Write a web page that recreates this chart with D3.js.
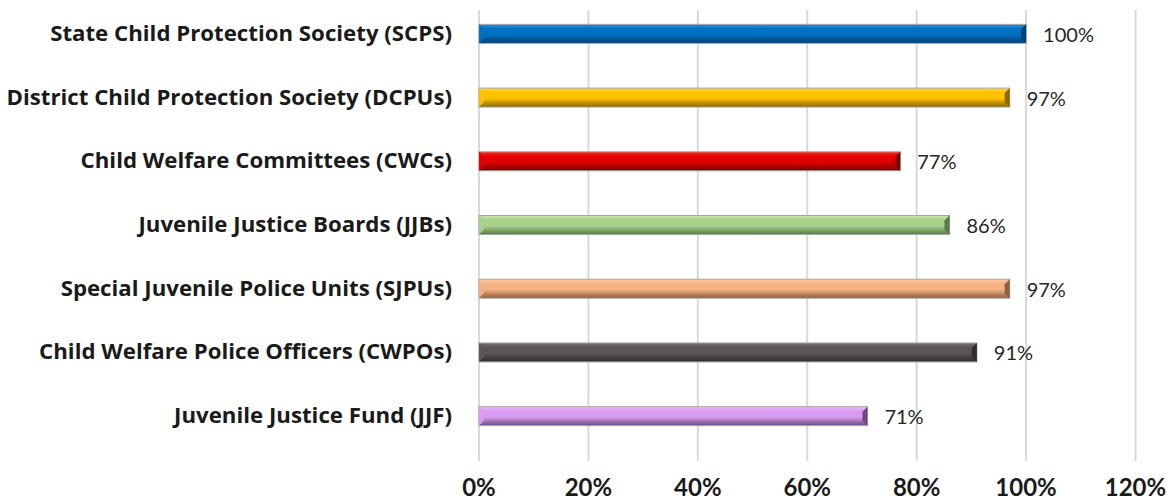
<!DOCTYPE html>
<html>
<head>
<meta charset="utf-8">
<script src="https://cdn.jsdelivr.net/npm/d3@7"></script>
<style>
  body { margin: 0; background: #fff; }
  svg { display: block; font-family: Lato, "Open Sans", sans-serif; }
  .grid line { stroke: #d9d9d9; stroke-width: 2; }
  .cat { font-family: "Open Sans", sans-serif; font-weight: bold; font-size: 20px; fill: #1a1a1a; }
  .tick-lbl { font-weight: bold; font-size: 24px; fill: #1a1a1a; }
  .val { font-size: 20px; fill: #262626; }
</style>
</head>
<body>
<svg id="chart" width="1170" height="500"></svg>
<script>
// data
var categories = [
  "State Child Protection Society (SCPS)",
  "District Child Protection Society (DCPUs)",
  "Child Welfare Committees (CWCs)",
  "Juvenile Justice Boards (JJBs)",
  "Special Juvenile Police Units (SJPUs)",
  "Child Welfare Police Officers (CWPOs)",
  "Juvenile Justice Fund (JJF)"
];
var values = [1.00, 0.97, 0.77, 0.86, 0.97, 0.91, 0.71];
var ticks = [0, 0.2, 0.4, 0.6, 0.8, 1.0, 1.2];
// light / base / dark shade for each bar
var barColors = [
  ["#2d8fdc", "#0070c0", "#003f78"],
  ["#ffd740", "#ffc000", "#8a6a00"],
  ["#ff2a2a", "#e00000", "#7a0000"],
  ["#c6e6ad", "#a9d18e", "#5c7a48"],
  ["#ffc9a3", "#f4b183", "#8f6040"],
  ["#767272", "#5a5656", "#2e2c2c"],
  ["#eeb4ff", "#d99cf0", "#6e4a80"]
];

var svg = d3.select("#chart");
var x = d3.scaleLinear().domain([0, 1.2]).range([479, 1135.5]);
var y = d3.scaleBand().domain(categories).range([2, 448]);
var barH = 19, bev = 5;

// gridlines
svg.append("g").attr("class", "grid")
  .selectAll("line").data(ticks).enter().append("line")
  .attr("x1", function(d){ return x(d); })
  .attr("x2", function(d){ return x(d); })
  .attr("y1", 10).attr("y2", 461);

// gradients
var defs = svg.append("defs");
barColors.forEach(function(c, i){
  var g = defs.append("linearGradient").attr("id", "g" + i)
    .attr("x1", 0).attr("y1", 0).attr("x2", 0).attr("y2", 1);
  g.append("stop").attr("offset", "0").attr("stop-color", c[0]);
  g.append("stop").attr("offset", "0.25").attr("stop-color", c[1]);
  g.append("stop").attr("offset", "0.55").attr("stop-color", c[1]);
  g.append("stop").attr("offset", "0.8").attr("stop-color", d3.interpolateRgb(c[1], c[2])(0.6));
  g.append("stop").attr("offset", "1").attr("stop-color", c[2]);
});

var bars = svg.append("g").selectAll("g").data(values).enter().append("g");

bars.append("rect")
  .attr("x", x(0))
  .attr("y", function(d, i){ return y(categories[i]) + y.bandwidth()/2 - barH/2; })
  .attr("width", function(d){ return x(d) - x(0); })
  .attr("height", barH)
  .attr("fill", function(d, i){ return "url(#g" + i + ")"; })
  .attr("stroke", "#a6a6a6").attr("stroke-width", 1);

// left bevel (highlight)
bars.append("path")
  .attr("d", function(d, i){
    var x0 = x(0), t = y(categories[i]) + y.bandwidth()/2 - barH/2;
    return "M" + x0 + "," + t + "L" + (x0 + bev) + "," + (t + bev) + "L" + (x0 + bev) + "," + (t + barH - bev) +
      "L" + x0 + "," + (t + barH) + "Z";
  })
  .attr("fill", function(d, i){ return barColors[i][1]; })
  .attr("opacity", 0.9);

// right bevel (shadow)
bars.append("path")
  .attr("d", function(d, i){
    var x1 = x(d), t = y(categories[i]) + y.bandwidth()/2 - barH/2;
    return "M" + x1 + "," + t + "L" + (x1 - bev) + "," + (t + bev) + "L" + (x1 - bev) + "," + (t + barH - bev) +
      "L" + x1 + "," + (t + barH) + "Z";
  })
  .attr("fill", function(d, i){ return barColors[i][2]; });

// value labels
bars.append("text").attr("class", "val")
  .attr("x", function(d){ return x(d) + 17; })
  .attr("y", function(d, i){ return y(categories[i]) + y.bandwidth()/2 + 8; })
  .text(function(d){ return Math.round(d * 100) + "%"; });

// category labels
var cats = svg.append("g").selectAll("text").data(categories).enter().append("text")
  .attr("class", "cat")
  .attr("x", 452)
  .attr("y", function(d){ return y(d) + y.bandwidth()/2 + 7; })
  .attr("text-anchor", "end")
  .text(function(d){ return d; });
// fit label size so the first label spans about 402px like the original
var w0 = cats.node().getComputedTextLength();
cats.style("font-size", (20 * 402 / w0) + "px");

// x tick labels
svg.append("g").selectAll("text").data(ticks).enter().append("text")
  .attr("class", "tick-lbl")
  .attr("x", function(d){ return x(d); })
  .attr("y", 496)
  .attr("text-anchor", "middle")
  .text(function(d){ return Math.round(d * 100) + "%"; });
</script>
</body>
</html>
